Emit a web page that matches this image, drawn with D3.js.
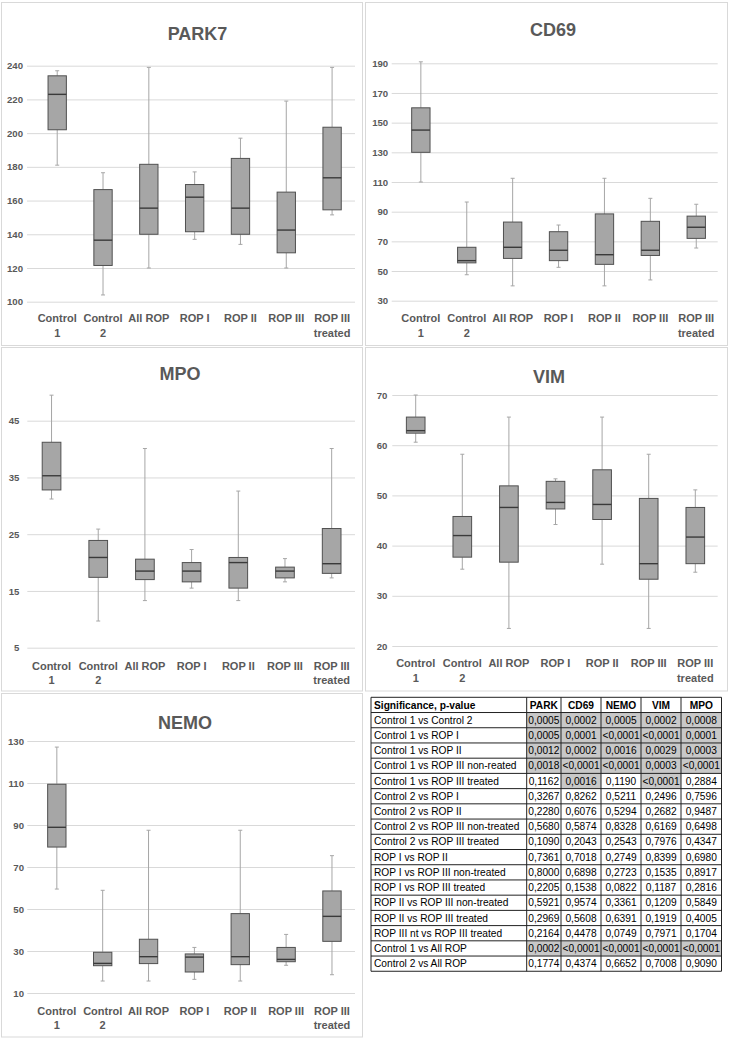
<!DOCTYPE html>
<html><head><meta charset="utf-8">
<script src="https://cdn.jsdelivr.net/npm/d3@7"></script>
<style>
body{margin:0;background:#fff;}
svg{display:block;}
</style></head><body>
<svg id="chart" width="730" height="1041"></svg>
<script>
// ---------- DATA ----------
const categories = ["Control 1","Control 2","All ROP","ROP I","ROP II","ROP III","ROP III treated"];
const categoryLines = [["Control","1"],["Control","2"],["All ROP"],["ROP I"],["ROP II"],["ROP III"],["ROP III","treated"]];

// five-number summaries per category: [min, q1, median, q3, max]
const park7 = [
  [181, 202, 223, 234, 237],
  [104, 121.5, 136.5, 166.5, 176.5],
  [120, 140, 155.5, 181.5, 239],
  [137, 141.5, 162, 169.5, 177],
  [134, 140, 155.5, 185, 197],
  [120, 129, 142.5, 165, 219],
  [151.5, 154.5, 173.5, 203.5, 239]
];
const cd69 = [
  [110, 130, 145, 160, 191],
  [47.5, 55.5, 57, 66, 96.5],
  [40, 58.5, 66, 83, 112.5],
  [52.5, 57, 64, 76.5, 81],
  [40, 54.5, 61, 88.5, 112.5],
  [44, 60.5, 64, 83.5, 99],
  [65.5, 72, 79.5, 87, 95]
];
const mpo = [
  [31.2, 32.8, 35.3, 41.2, 49.5],
  [9.7, 17.4, 20.9, 23.9, 25.9],
  [13.3, 17.0, 18.5, 20.6, 40.1],
  [15.5, 16.6, 18.5, 20.0, 22.3],
  [13.3, 15.5, 20.0, 20.9, 32.6],
  [16.6, 17.3, 18.5, 19.2, 20.7],
  [17.3, 18.1, 19.8, 26.0, 40.1]
];
const vim = [
  [60.6, 62.4, 62.9, 65.6, 70],
  [35.3, 37.7, 42.0, 45.8, 58.2],
  [23.5, 36.7, 47.6, 51.9, 65.6],
  [44.2, 47.3, 48.6, 52.8, 53.3],
  [36.3, 45.2, 48.2, 55.1, 65.6],
  [23.5, 33.3, 36.4, 49.4, 58.2],
  [34.7, 36.4, 41.7, 47.6, 51.1]
];
const nemo = [
  [59.5, 79.5, 88.9, 109.4, 127.1],
  [15.7, 23.0, 24.1, 29.4, 58.9],
  [15.7, 24.0, 27.3, 35.6, 87.5],
  [16.5, 20.0, 27.1, 28.6, 31.7],
  [15.7, 23.5, 27.3, 47.8, 87.5],
  [23.2, 24.9, 26.0, 31.7, 37.9],
  [18.7, 34.6, 46.5, 58.6, 75.4]
];

const park7Ticks = [100,120,140,160,180,200,220,240];
const cd69Ticks = [30,50,70,90,110,130,150,170,190];
const mpoTicks = [5,15,25,35,45];
const vimTicks = [20,30,40,50,60,70];
const nemoTicks = [10,30,50,70,90,110,130];

const tableHeader = ["Significance, p-value","PARK","CD69","NEMO","VIM","MPO"];
const comparisons = [
  "Control 1 vs Control 2","Control 1 vs ROP I","Control 1 vs ROP II","Control 1 vs ROP III non-reated",
  "Control 1 vs ROP III treated","Control 2 vs ROP I","Control 2 vs ROP II","Control 2 vs ROP III non-treated",
  "Control 2 vs ROP III treated","ROP I vs ROP II","ROP I vs ROP III non-treated","ROP I vs ROP III treated",
  "ROP II vs ROP III non-treated","ROP II vs ROP III treated","ROP III nt vs ROP III treated",
  "Control 1 vs All ROP","Control 2 vs All ROP"
];
const parkP = ["0,0005","0,0005","0,0012","0,0018","0,1162","0,3267","0,2280","0,5680","0,1090","0,7361","0,8000","0,2205","0,5921","0,2969","0,2164","0,0002","0,1774"];
const cd69P = ["0,0002","0,0001","0,0002","<0,0001","0,0016","0,8262","0,6076","0,5874","0,2043","0,7018","0,6898","0,1538","0,9574","0,5608","0,4478","<0,0001","0,4374"];
const nemoP = ["0,0005","<0,0001","0,0016","<0,0001","0,1190","0,5211","0,5294","0,8328","0,2543","0,2749","0,2723","0,0822","0,3361","0,6391","0,0749","<0,0001","0,6652"];
const vimP  = ["0,0002","<0,0001","0,0029","0,0003","<0,0001","0,2496","0,2682","0,6169","0,7976","0,8399","0,1535","0,1187","0,1209","0,1919","0,7971","<0,0001","0,7008"];
const mpoP  = ["0,0008","0,0001","0,0003","<0,0001","0,2884","0,7596","0,9487","0,6498","0,4347","0,6980","0,8917","0,2816","0,5849","0,4005","0,1704","<0,0001","0,9090"];

// ---------- DRAW ----------
const svg = d3.select("#chart");
const FONT = "'Liberation Sans', Arial, sans-serif";
const TXT = "#595959";

const panels = [
  {name:"PARK7", data:park7, ticks:park7Ticks, domain:[100,240], yRange:[301.7,65.7],
   frame:[1.5,2.5,362.5,345.5], title:[197.5,39.5], band:[34.3,355], grid:[27,355], pad:4, lab:[322.3,337.3]},
  {name:"CD69", data:cd69, ticks:cd69Ticks, domain:[30,190], yRange:[300.7,63.3],
   frame:[365.5,2.5,727.5,345.5], title:[553,36], band:[397.9,719.2], grid:[391.7,717.7], pad:3.5, lab:[322.3,337.3]},
  {name:"MPO", data:mpo, ticks:mpoTicks, domain:[5,45], yRange:[647.7,420.7],
   frame:[1.5,347.5,362.5,691], title:[180,380], band:[28.2,355], grid:[27.3,355], pad:8, lab:[669.5,684]},
  {name:"VIM", data:vim, ticks:vimTicks, domain:[20,70], yRange:[646,395],
   frame:[365.5,347.5,727.5,691], title:[549,382.7], band:[392.4,718.6], grid:[392.3,717.7], pad:5, lab:[667.3,682.3]},
  {name:"NEMO", data:nemo, ticks:nemoTicks, domain:[10,130], yRange:[993,741],
   frame:[1.5,693.5,362.5,1037], title:[185,729.3], band:[33.9,354.9], grid:[27.3,355], pad:3.3, lab:[1014.7,1029]}
];

panels.forEach(cfg => {
  const g = svg.append("g");
  g.append("rect")
    .attr("x", cfg.frame[0]).attr("y", cfg.frame[1])
    .attr("width", cfg.frame[2]-cfg.frame[0]).attr("height", cfg.frame[3]-cfg.frame[1])
    .attr("fill", "#fff").attr("stroke", "#d9d9d9").attr("stroke-width", 1);

  const y = d3.scaleLinear().domain(cfg.domain).range(cfg.yRange);
  const x = d3.scaleBand().domain(categories).range(cfg.band).padding(0);

  const axis = d3.axisLeft(y).tickValues(cfg.ticks)
    .tickSize(-(cfg.grid[1]-cfg.grid[0])).tickPadding(cfg.pad).tickFormat(d3.format("d"));
  const ag = g.append("g").attr("transform", `translate(${cfg.grid[0]},0)`).call(axis);
  ag.select(".domain").remove();
  ag.selectAll(".tick line").attr("stroke", "#d9d9d9").attr("stroke-width", 1);
  ag.selectAll(".tick text").attr("fill", TXT).attr("font-size", 9.6)
    .attr("font-weight", "bold").attr("font-family", FONT);

  g.append("text").attr("x", cfg.title[0]).attr("y", cfg.title[1])
    .attr("text-anchor", "middle").attr("font-family", FONT).attr("font-weight", "bold")
    .attr("font-size", 18).attr("fill", TXT).text(cfg.name);

  const bw = x.bandwidth() * 0.4;
  const cx = c => x(c) + x.bandwidth()/2;
  const rows = cfg.data.map((s, i) => ({cat: categories[i], lines: categoryLines[i], min:s[0], q1:s[1], med:s[2], q3:s[3], max:s[4]}));

  const bx = g.selectAll(".box").data(rows).enter().append("g").attr("class","box");
  const wh = "#a6a6a6";
  bx.append("line").attr("x1", d=>cx(d.cat)).attr("x2", d=>cx(d.cat))
    .attr("y1", d=>y(d.max)).attr("y2", d=>y(d.q3)).attr("stroke", wh).attr("stroke-width", 1);
  bx.append("line").attr("x1", d=>cx(d.cat)).attr("x2", d=>cx(d.cat))
    .attr("y1", d=>y(d.q1)).attr("y2", d=>y(d.min)).attr("stroke", wh).attr("stroke-width", 1);
  bx.append("line").attr("x1", d=>cx(d.cat)-2).attr("x2", d=>cx(d.cat)+2)
    .attr("y1", d=>y(d.max)).attr("y2", d=>y(d.max)).attr("stroke", wh).attr("stroke-width", 1);
  bx.append("line").attr("x1", d=>cx(d.cat)-2).attr("x2", d=>cx(d.cat)+2)
    .attr("y1", d=>y(d.min)).attr("y2", d=>y(d.min)).attr("stroke", wh).attr("stroke-width", 1);
  bx.append("rect").attr("x", d=>cx(d.cat)-bw/2).attr("width", bw)
    .attr("y", d=>y(d.q3)).attr("height", d=>y(d.q1)-y(d.q3))
    .attr("fill", "#a6a6a6").attr("stroke", "#505050").attr("stroke-width", 1);
  bx.append("line").attr("x1", d=>cx(d.cat)-bw/2).attr("x2", d=>cx(d.cat)+bw/2)
    .attr("y1", d=>y(d.med)).attr("y2", d=>y(d.med)).attr("stroke", "#3a3a3a").attr("stroke-width", 1.4);

  bx.each(function(d){
    const t = d3.select(this);
    d.lines.forEach((ln, k) => {
      t.append("text").attr("x", cx(d.cat)).attr("y", cfg.lab[k])
        .attr("text-anchor","middle").attr("font-family", FONT).attr("font-weight","bold")
        .attr("font-size", 11).attr("fill", TXT).text(ln);
    });
  });
});

// ---------- TABLE ----------
const pColumns = [parkP, cd69P, nemoP, vimP, mpoP];
const colX = [371, 526.7, 561, 601, 641, 681, 721.5];
const tTop = 697.3, rowH = 15.22;
const nRows = comparisons.length + 1;
const tg = svg.append("g");
const pval = s => s.startsWith("<") ? 0.00005 : parseFloat(s.replace(",", "."));

comparisons.forEach((lab, r) => {
  const yTop = tTop + (r+1)*rowH;
  pColumns.forEach((col, c) => {
    if (pval(col[r]) < 0.05) {
      tg.append("rect").attr("x", colX[c+1]).attr("y", yTop)
        .attr("width", colX[c+2]-colX[c+1]).attr("height", rowH).attr("fill", "#c8c8c8");
    }
  });
});
// grid lines
for (let r = 0; r <= nRows; r++) {
  tg.append("line").attr("x1", colX[0]).attr("x2", colX[colX.length-1])
    .attr("y1", tTop + r*rowH).attr("y2", tTop + r*rowH).attr("stroke", "#222").attr("stroke-width", 1);
}
colX.forEach(xv => {
  tg.append("line").attr("x1", xv).attr("x2", xv).attr("y1", tTop).attr("y2", tTop + nRows*rowH)
    .attr("stroke", "#222").attr("stroke-width", 1);
});
const tfs = 10.2;
const baseY = r => tTop + r*rowH + rowH/2 + 3.6;
tableHeader.forEach((h, c) => {
  tg.append("text").attr("x", c === 0 ? colX[0]+3 : (colX[c]+colX[c+1])/2).attr("y", baseY(0))
    .attr("text-anchor", c === 0 ? "start" : "middle").attr("font-family", FONT)
    .attr("font-weight", "bold").attr("font-size", tfs).attr("fill", "#000").text(h);
});
comparisons.forEach((lab, r) => {
  tg.append("text").attr("x", colX[0]+3).attr("y", baseY(r+1)).attr("font-family", FONT)
    .attr("font-size", tfs).attr("fill", "#000").text(lab);
  pColumns.forEach((col, c) => {
    tg.append("text").attr("x", (colX[c+1]+colX[c+2])/2).attr("y", baseY(r+1))
      .attr("text-anchor", "middle").attr("font-family", FONT)
      .attr("font-size", tfs).attr("fill", "#000").text(col[r]);
  });
});
</script>
</body></html>
